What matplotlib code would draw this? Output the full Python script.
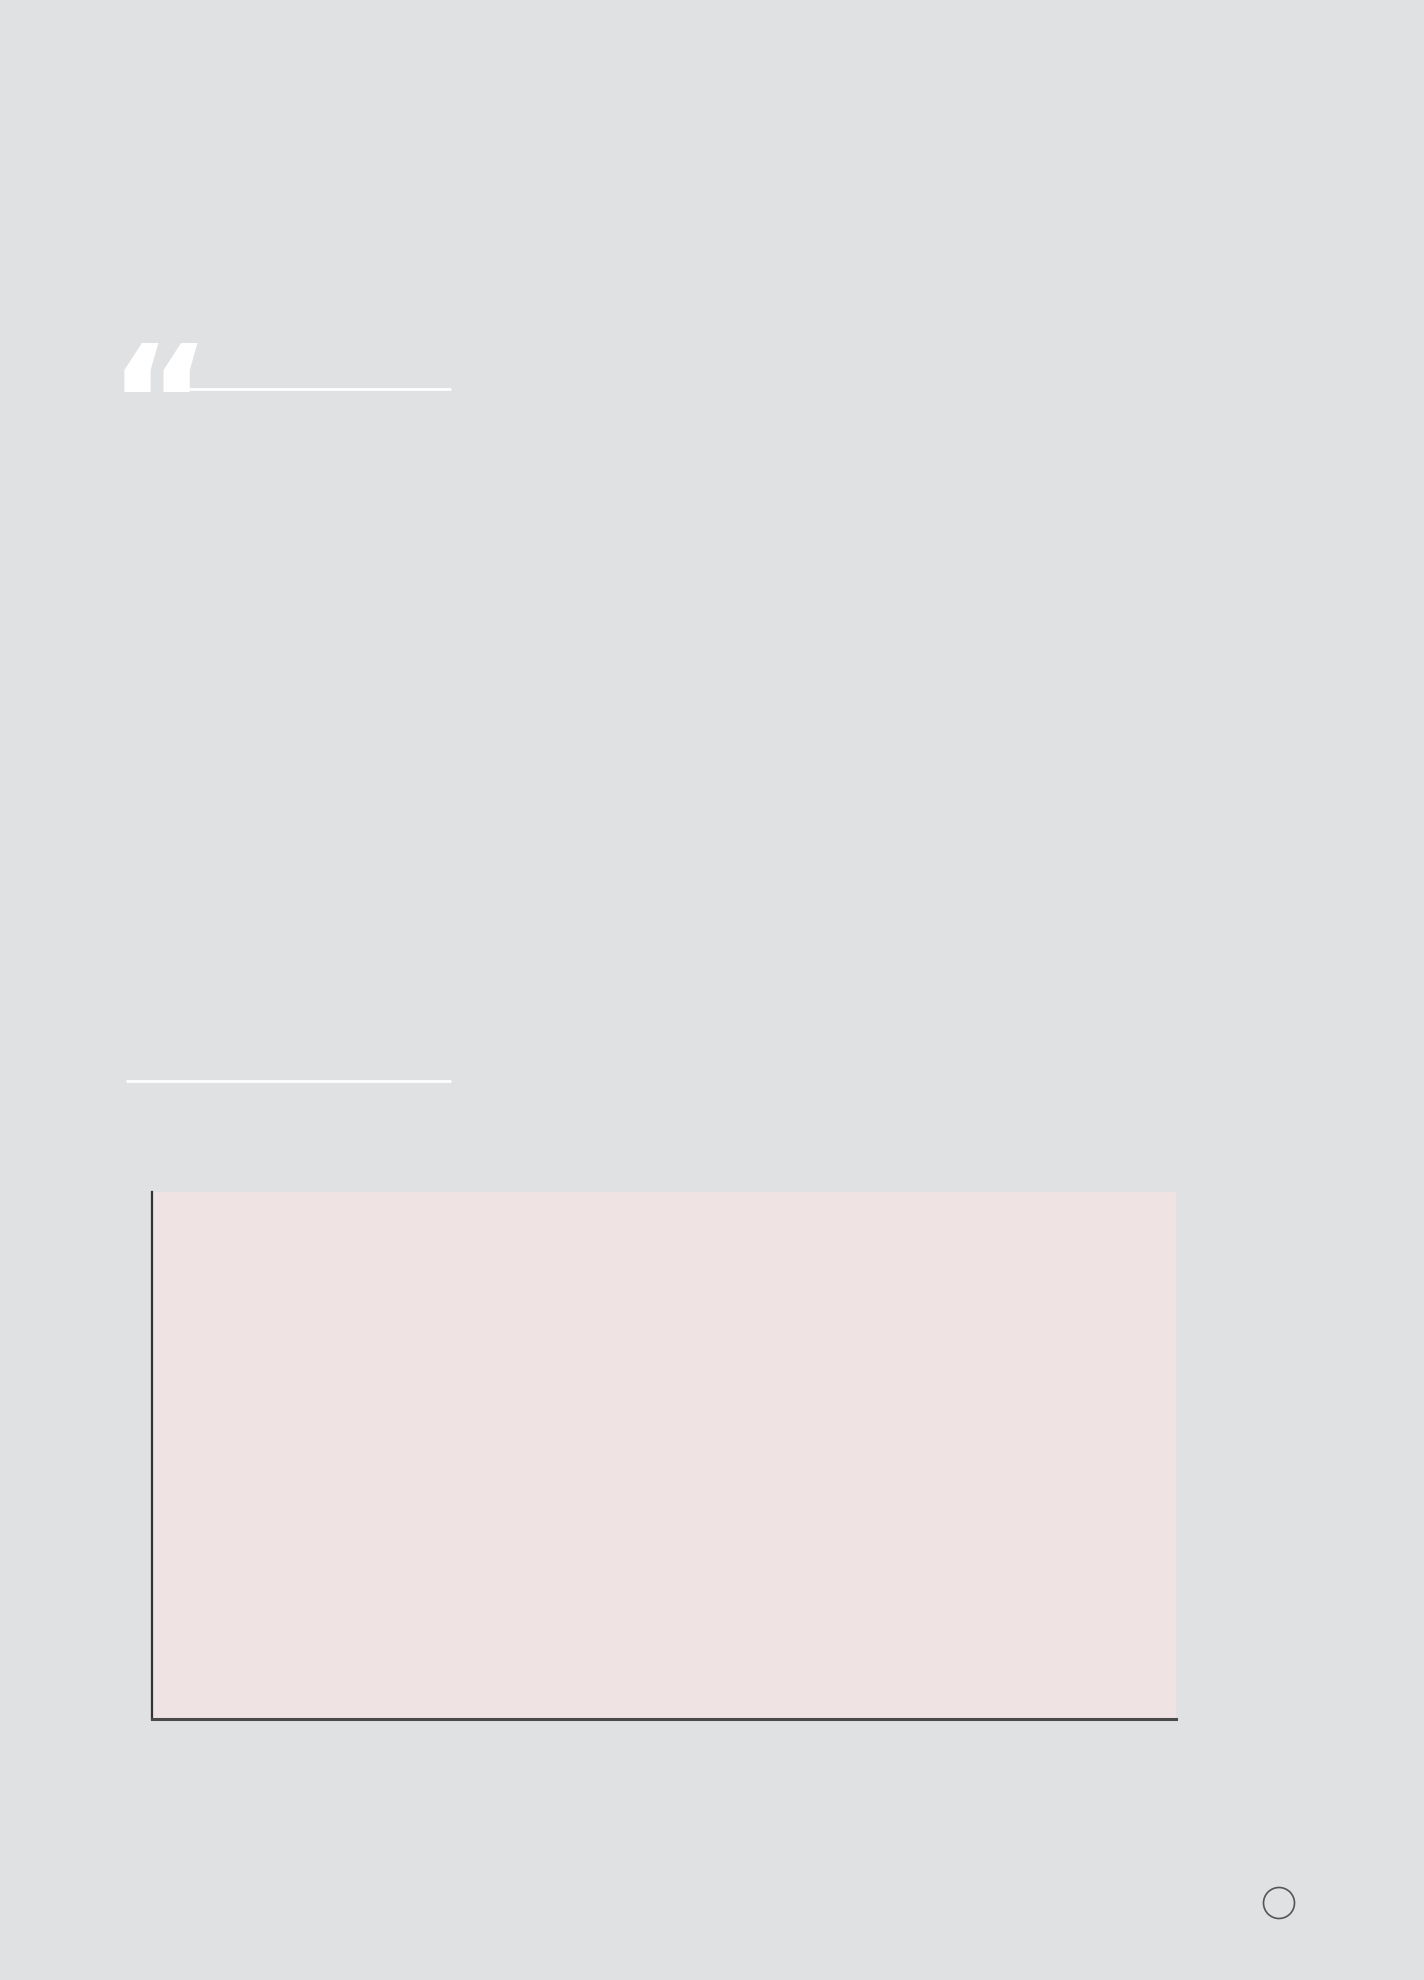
import matplotlib
matplotlib.use("Agg")

import matplotlib.pyplot as plt
import matplotlib.patches as patches

# chart data: the reference chart shows an empty plot area
categories = []
values = []

PAGE_W, PAGE_H = 1424, 1981
BG = "#e0e1e3"
PANEL = "#f0e3e3"

fig = plt.figure(figsize=(PAGE_W / 100, PAGE_H / 100), dpi=100, facecolor=BG)

# ── page decoration layer (pixel coordinates) ──
page = fig.add_axes([0, 0, 1, 1])
page.set_xlim(0, PAGE_W)
page.set_ylim(PAGE_H, 0)
page.axis("off")

page.text(108, 458, "\u201c", color="white", fontsize=114,
          fontweight="bold", family="DejaVu Sans",
          ha="left", va="baseline")
page.plot([187, 451], [390, 390], color="white", linewidth=2,
          solid_capstyle="butt")
page.plot([126, 451], [1082, 1082], color="white", linewidth=2,
          solid_capstyle="butt")
page.add_patch(patches.Circle((1279, 1904), 15.5, fill=False,
                              edgecolor="#555555", linewidth=1.2))

# ── chart panel ──
left, right, top, bottom = 152, 1176, 1193, 1720
ax = fig.add_axes([left / PAGE_W, 1 - bottom / PAGE_H,
                   (right - left) / PAGE_W, (bottom - top) / PAGE_H])
ax.set_facecolor(PANEL)
ax.bar(categories, values, color="#c9a9a9")
ax.set_xlim(0, 1)
ax.set_ylim(0, 1)
ax.set_xticks([])
ax.set_yticks([])
ax.spines["top"].set_visible(False)
ax.spines["right"].set_visible(False)
ax.spines["left"].set_color("#333333")
ax.spines["left"].set_linewidth(1.6)
ax.spines["bottom"].set_color("#4a4a4a")
ax.spines["bottom"].set_linewidth(2.2)

fig.savefig("out.png", dpi=100, facecolor=BG)
plt.close(fig)
